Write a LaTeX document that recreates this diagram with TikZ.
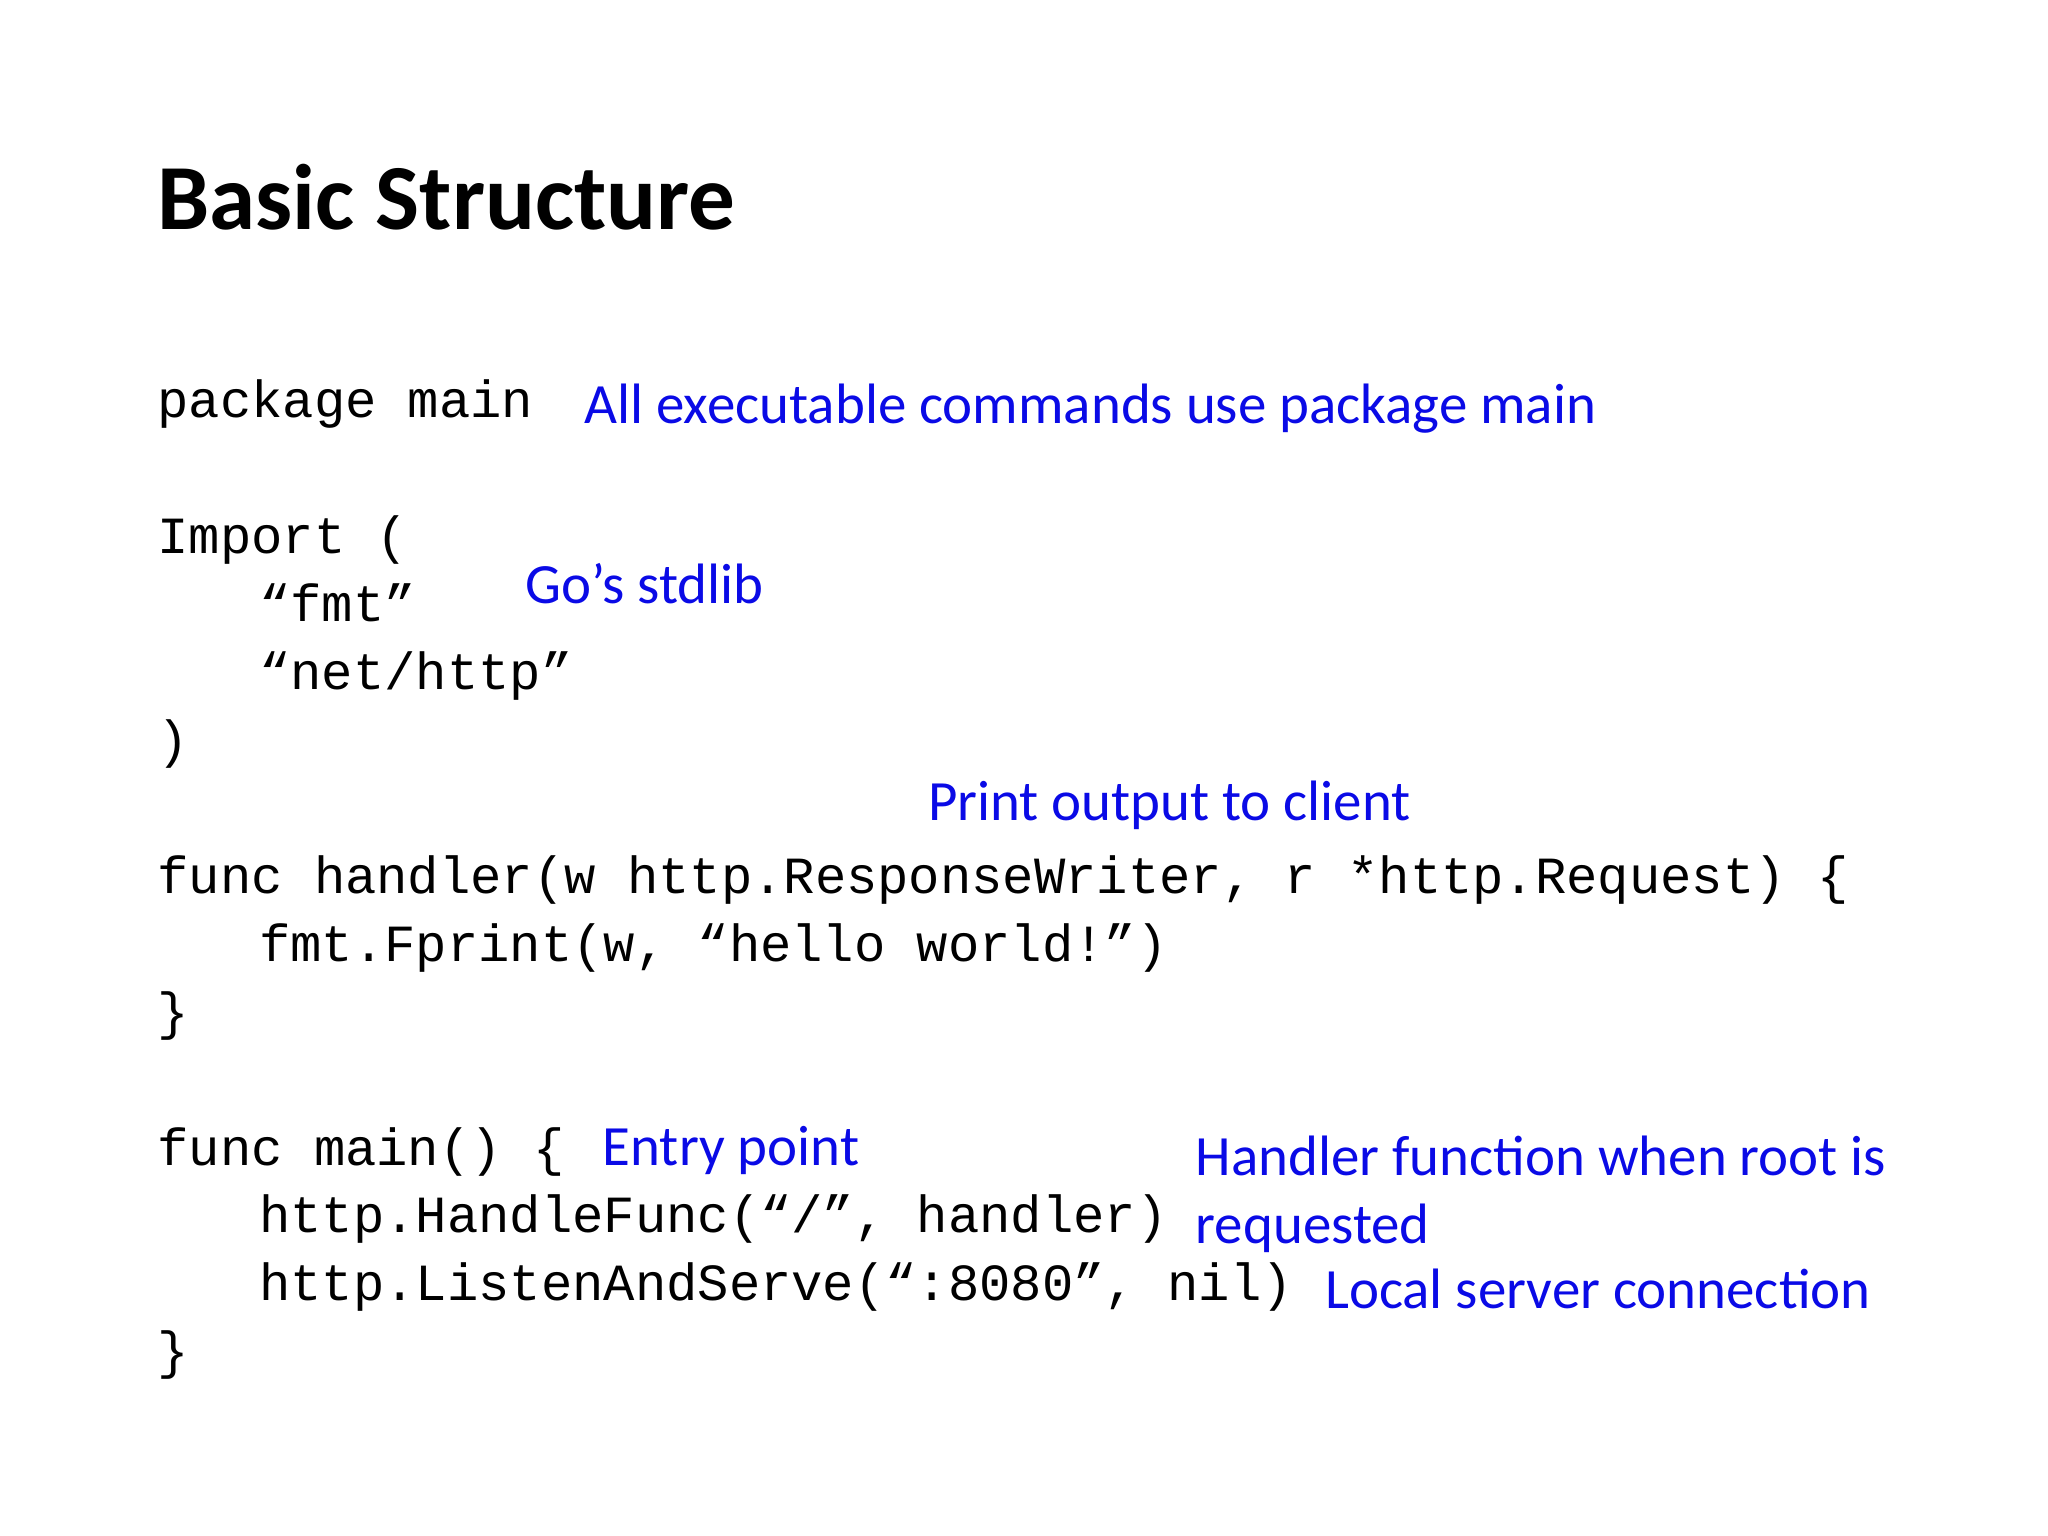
\documentclass[tikz,border=0pt]{standalone}
\usepackage{fontspec}
\setmainfont{Carlito}
\newfontfamily\codefont{Liberation Mono}
\definecolor{noteblue}{RGB}{10,10,230}
\tikzset{
  code/.style={anchor=base west, inner sep=0pt, font=\codefont\fontsize{14.85pt}{16pt}\selectfont},
  note/.style={anchor=base west, inner sep=0pt, text=noteblue, font=\fontsize{16.2pt}{19pt}\selectfont},
}
\begin{document}
\begin{tikzpicture}[x=0.013061cm,y=-0.013061cm]
        \useasboundingbox (0,0) rectangle (1568,1176);
        \node [anchor=base west, inner sep=0pt, font=\bfseries\fontsize{26.5pt}{30pt}\selectfont] (title) at (120,176) {Basic Structure};
        % code
        \node [code] (pkg) at (120,320) {package main};
        \node [code] (imp) at (120,424) {Import (};
        \node [code] (fmt) at (198,476) {“fmt”};
        \node [code] (net) at (198,528) {“net/http”};
        \node [code] (impend) at (120,580) {)};
        \node [code] (hdl) at (120,684) {func handler(w http.ResponseWriter, r *http.Request) \{};
        \node [code] (prt) at (198,736) {fmt.Fprint(w, “hello world!”)};
        \node [code] (hdlend) at (120,788) {\}};
        \node [code] (mainf) at (120,892) {func main() \{};
        \node [code] (hf) at (198,944) {http.HandleFunc(“/”, handler)};
        \node [code] (las) at (198,996) {http.ListenAndServe(“:8080”, nil)};
        \node [code] (mainend) at (120,1048) {\}};
        % notes
        \node [note] (npkg) at (447,324) {All executable commands use package main};
        \node [note] (nlib) at (402,462) {Go’s stdlib};
        \node [note] (nprt) at (710,628) {Print output to client};
        \node [note] (nentry) at (461,892) {Entry point};
        \node [note] (nhdl) at (915,900) {Handler function when root is};
        \node [note] (nreq) at (915,952) {requested};
        \node [note] (nsrv) at (1014,1002) {Local server connection};
\end{tikzpicture}
\end{document}
